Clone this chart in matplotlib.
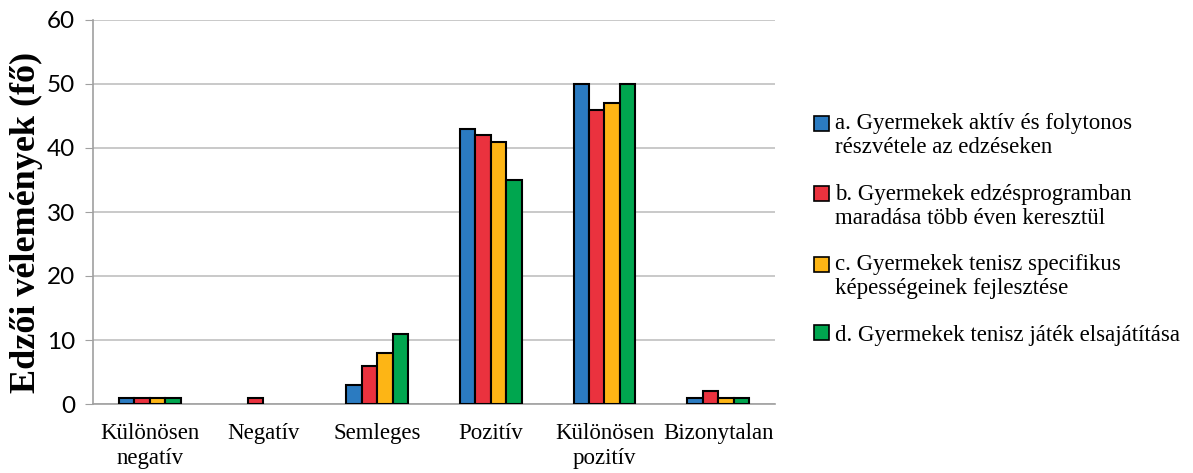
import numpy as np
import matplotlib.pyplot as plt
from matplotlib.patches import Patch
from matplotlib.legend_handler import HandlerPatch

categories = ['Különösen\nnegatív', 'Negatív', 'Semleges', 'Pozitív',
              'Különösen\npozitív', 'Bizonytalan']
series_labels = ['a. Gyermekek aktív és folytonos\nrészvétele az edzéseken',
                 'b. Gyermekek edzésprogramban\nmaradása több éven keresztül',
                 'c. Gyermekek tenisz specifikus\nképességeinek fejlesztése',
                 'd. Gyermekek tenisz játék elsajátítása']
a_vals = [1, 0, 3, 43, 50, 1]
b_vals = [1, 1, 6, 42, 46, 2]
c_vals = [1, 0, 8, 41, 47, 1]
d_vals = [1, 0, 11, 35, 50, 1]
colors = ['#2B7BC1', '#EA323E', '#FDB515', '#00A64F']

serif = ['Liberation Serif', 'DejaVu Serif']
sans = ['Lato', 'DejaVu Sans']


class FirstLineHandler(HandlerPatch):
    # puts the legend square next to the first line of a two-line label
    def __init__(self, shift, **kw):
        super().__init__(**kw)
        self.shift = shift

    def create_artists(self, legend, orig_handle, xdescent, ydescent,
                       width, height, fontsize, trans):
        return super().create_artists(legend, orig_handle, xdescent,
                                      ydescent - self.shift, width, height,
                                      fontsize, trans)


fig = plt.figure(figsize=(11.93, 4.73), dpi=100)
ax = fig.add_axes([93 / 1193, 69 / 473, 682 / 1193, 384 / 473])

x = np.arange(len(categories))
w = 0.136
for i, vals in enumerate([a_vals, b_vals, c_vals, d_vals]):
    v = np.array(vals, dtype=float)
    mask = v > 0
    ax.bar(x[mask] + (i - 1.5) * w, v[mask], width=w, color=colors[i],
           edgecolor='black', linewidth=1.5, zorder=3)

ax.set_xlim(-0.5, len(categories) - 0.5)
ax.set_ylim(0, 60)
ax.set_yticks(range(0, 61, 10))
ax.yaxis.grid(True, color='#C0C0C0', linewidth=1.2, zorder=0)
ax.set_xticks(x)
ax.set_xticklabels(categories, fontfamily=serif, fontsize=16.5, linespacing=1.2)
ax.tick_params(axis='x', length=0, pad=14)
ax.tick_params(axis='y', length=6, color='#A0A0A0', labelsize=17.5, pad=7)
for t in ax.get_yticklabels():
    t.set_fontfamily(sans)

for s in ['top', 'right']:
    ax.spines[s].set_visible(False)
for s in ['left', 'bottom']:
    ax.spines[s].set_color('#A0A0A0')
    ax.spines[s].set_linewidth(1.2)

ax.set_ylabel('Edzői vélemények (fő)', fontfamily=serif, fontsize=26,
              fontweight='bold')
ax.yaxis.set_label_coords(-0.073, 0.474)

handles = [Patch(facecolor=c, edgecolor='black', linewidth=1.2) for c in colors]
hmap = {h: FirstLineHandler(9.0 if '\n' in lab else 0.0)
        for h, lab in zip(handles, series_labels)}
fig.legend(handles, series_labels, loc='center left',
           bbox_to_anchor=(793 / 1193, 0.515), frameon=False,
           prop={'family': serif, 'size': 16.5}, handlelength=0.65,
           handleheight=0.65, handletextpad=0.3, labelspacing=1.1,
           handler_map=hmap)

fig.savefig('out.png', dpi=100)
